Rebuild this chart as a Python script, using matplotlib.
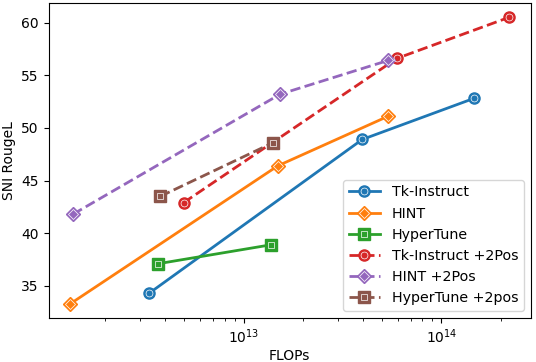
import matplotlib
matplotlib.use("Agg")
import matplotlib.pyplot as plt
from matplotlib.legend_handler import HandlerTuple

series_names = ["Tk-Instruct", "HINT", "HyperTune",
                "Tk-Instruct +2Pos", "HINT +2Pos", "HyperTune +2pos"]
tk_x = [3.33e12, 3.98e13, 1.46e14]
tk_y = [34.3, 48.9, 52.8]
hint_x = [1.33e12, 1.49e13, 5.37e13]
hint_y = [33.3, 46.4, 51.1]
ht_x = [3.7e12, 1.38e13]
ht_y = [37.1, 38.9]
tk2_x = [4.97e12, 5.96e13, 2.2e14]
tk2_y = [42.9, 56.6, 60.5]
hint2_x = [1.37e12, 1.53e13, 5.37e13]
hint2_y = [41.8, 53.2, 56.4]
ht2_x = [3.79e12, 1.41e13]
ht2_y = [43.5, 48.6]

xs = [tk_x, hint_x, ht_x, tk2_x, hint2_x, ht2_x]
ys = [tk_y, hint_y, ht_y, tk2_y, hint2_y, ht2_y]
colors = ["#1f77b4", "#ff7f0e", "#2ca02c", "#d62728", "#9467bd", "#8c564b"]
markers = ["o", "D", "s", "o", "D", "s"]
styles = ["-", "-", "-", "--", "--", "--"]
sizes = [8, 7.5, 8, 8, 7.5, 8]

fig = plt.figure(figsize=(5.36, 3.62), dpi=100)
ax = fig.add_axes([0.0905, 0.1215, 0.9002, 0.8702])

handles = []
for x, y, c, m, ls, ms in zip(xs, ys, colors, markers, styles, sizes):
    l1, = ax.plot(x, y, color=c, linestyle=ls, linewidth=2, marker=m,
                  markersize=ms, markerfacecolor=c, markeredgecolor=c)
    l2, = ax.plot(x, y, linestyle="none", marker=m, markersize=ms * 0.62,
                  markerfacecolor="none", markeredgecolor="white",
                  markeredgewidth=0.5, zorder=l1.get_zorder() + 0.1)
    handles.append((l1, l2))

ax.set_xscale("log")
ax.set_xlabel("FLOPs", labelpad=2)
ax.set_ylabel("SNI RougeL")
ax.set_yticks([35, 40, 45, 50, 55, 60])
ax.legend(handles, series_names, loc="lower right", fontsize=10.3,
          handlelength=2.2,
          handler_map={tuple: HandlerTuple(ndivide=1)})

fig.savefig("out.png", dpi=100)
